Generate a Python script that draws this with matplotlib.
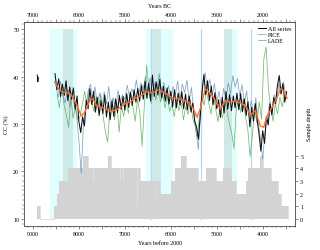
import matplotlib
matplotlib.use("Agg")
import matplotlib.pyplot as plt
from matplotlib.ticker import MultipleLocator, FuncFormatter

plt.rcParams['font.family'] = ['Liberation Serif', 'DejaVu Serif']
plt.rcParams['font.size'] = 4.3

## composite series, 40 yr steps from 8520 to 3480 yr before 2000
all_years = list(range(8520, 3479, -40))
all_cc = [40.6, 37.2, 39.5, 35.8, 38.4, 36.0, 39.1, 34.9, 37.8, 35.2,
          37.6, 33.1, 35.9, 30.4, 28.2, 31.5, 29.6, 35.0, 33.2, 37.4,
          34.1, 36.9, 32.5, 35.6, 31.8, 34.9, 32.2, 36.1, 31.5, 34.6,
          30.9, 34.8, 31.6, 35.3, 32.4, 36.0, 33.1, 35.8, 32.9, 36.4,
          33.5, 36.7, 33.9, 37.2, 34.6, 37.5, 34.8, 38.1, 35.2, 39.0,
          35.4, 38.6, 34.9, 40.3, 35.8, 38.9, 36.1, 39.4, 35.5, 37.9,
          34.8, 37.6, 34.2, 36.9, 33.6, 37.2, 33.4, 36.5, 34.0, 36.8,
          33.2, 36.3, 33.0, 35.9, 32.5, 34.4, 30.6, 29.4, 26.8, 31.5,
          36.8, 40.4, 36.2, 39.1, 34.9, 38.0, 34.1, 36.6, 33.2, 35.1,
          31.4, 35.6, 32.3, 36.8, 33.1, 36.2, 32.8, 35.9, 33.4, 36.5,
          33.0, 36.4, 32.6, 35.3, 31.8, 34.7, 29.4, 33.5, 30.6, 34.3,
          30.8, 27.9, 24.3, 28.6, 25.9, 31.6, 29.8, 34.2, 31.9, 35.6,
          34.3, 38.1, 40.2, 36.4, 38.5, 34.6, 36.8]

# isolated early fragment
early_years = [8905, 8895, 8885]
early_cc = [40.3, 38.9, 39.8]

pice_years = list(range(8500, 3499, -50))
pice_cc = [38.2, 35.6, 39.0, 36.1, 34.4, 37.3, 33.5, 36.8, 34.0, 31.8,
           26.5, 19.6, 30.2, 33.6, 36.9, 38.4, 35.2, 37.8, 34.1, 36.5,
           33.4, 36.8, 34.2, 37.9, 32.8, 35.5, 33.0, 37.1, 34.6, 36.2,
           35.1, 38.2, 35.8, 37.4, 36.2, 39.3, 36.0, 38.7, 37.4, 40.1,
           37.0, 39.8, 36.3, 38.6, 37.5, 40.6, 36.9, 38.8, 35.6, 38.1,
           35.4, 37.9, 36.2, 39.1, 35.0, 38.4, 36.6, 39.2, 34.8, 37.7,
           32.1, 28.4, 24.6, 33.0, 38.6, 40.8, 37.3, 39.4, 36.0, 38.5,
           34.7, 36.9, 33.8, 37.5, 35.2, 38.6, 36.4, 40.2, 37.8, 39.6,
           35.9, 38.3, 34.4, 37.0, 31.8, 34.9, 32.2, 35.5, 30.4, 27.1,
           22.6, 28.3, 31.0, 34.6, 32.4, 36.2, 34.8, 38.5, 36.1, 38.9,
           36.3]

lade_years = list(range(8475, 3524, -50))
lade_cc = [36.2, 33.4, 37.8, 34.1, 32.0, 29.3, 35.6, 31.2, 33.9, 30.8,
           31.5, 34.2, 36.9, 33.8, 37.5, 35.1, 32.6, 35.9, 33.0, 36.4,
           31.8, 28.5, 26.2, 33.1, 35.4, 30.9, 34.7, 28.3, 33.8, 31.6,
           34.9, 32.2, 36.8, 33.5, 30.6, 35.2, 32.4, 25.3, 34.1, 42.4,
           36.7, 34.3, 37.9, 35.0, 38.4, 34.6, 36.2, 33.4, 35.8, 32.7,
           34.1, 31.5, 35.3, 32.8, 34.6, 30.9, 33.7, 32.0, 35.1, 31.3,
           29.6, 27.4, 31.8, 35.7, 33.9, 37.2, 34.4, 32.1, 35.6, 33.3,
           30.5, 33.7, 31.2, 34.8, 32.6, 30.1, 28.0, 24.8, 33.2, 35.0,
           32.4, 35.3, 31.6, 28.9, 23.2, 27.5, 33.1, 30.2, 34.6, 31.0,
           43.8, 46.2, 37.5, 33.4, 30.6, 34.2, 32.1, 35.7, 33.6, 36.0]

smooth_years = [8527, 8418, 8320, 8237, 8165, 8056, 7947, 7873, 7764, 7692,
                7620, 7511, 7402, 7293, 7147, 7001, 6857, 6776, 6630, 6521,
                6413, 6268, 6159, 6050, 5941, 5832, 5723, 5614, 5505, 5431,
                5359, 5250, 5141, 5070, 4995, 4923, 4814, 4705, 4596, 4487,
                4378, 4269, 4160, 4051, 3978, 3906, 3797, 3687, 3615, 3543, 3470]
smooth_cc = [38.8, 37.0, 36.7, 36.5, 36.1, 34.2, 31.7, 32.5, 34.9, 35.3,
             33.9, 33.5, 33.2, 32.6, 33.2, 34.2, 34.8, 35.4, 36.1, 36.8,
             36.5, 37.2, 36.7, 36.1, 35.3, 35.4, 34.9, 34.6, 33.2, 31.4,
             33.2, 37.4, 36.5, 35.6, 34.2, 33.2, 34.9, 34.6, 34.9, 34.4,
             33.9, 31.9, 32.8, 29.6, 29.3, 31.7, 33.5, 35.6, 37.4, 37.0, 35.4]

## sample depth, step changes (year, depth)
depth_years = [8913, 8847, 8536, 8483, 8427, 8230, 8160, 8140, 7903, 7808,
               7700, 7680, 7358, 7300, 7100, 7080, 7040, 7020, 6740, 6720,
               6667, 6340, 6320, 6245, 5990, 5918, 5780, 5680, 5410, 5227,
               5009, 4865, 4682, 4573, 4355, 4320, 4065, 3993, 3810, 3666,
               3592, 3447]
depth_vals = [1, 0, 1, 2, 3, 4, 3, 4, 5, 4,
              3, 4, 5, 4, 3, 4, 3, 4, 1, 4,
              3, 1, 3, 2, 3, 4, 5, 4, 3, 4,
              3, 4, 3, 2, 3, 4, 5, 4, 3, 2,
              1, 0]

## shaded periods
event_start = [8630, 6537, 4850]
event_end = [8035, 5943, 4560]
core_start = [8340, 6413, 4850]
core_end = [8135, 6217, 4660]
line_years = [6434, 5338, 4246]

cc_lim = (8.63, 51.54)
depth_lim = (-0.51, 15.54)
xlim = (9189, 3297)

fig = plt.figure(figsize=(3.2, 2.51), dpi=100)
ax = fig.add_axes([0.0759, 0.0976, 0.9219 - 0.0759, 0.9096 - 0.0976])
ax2 = ax.twinx()
ax.set_zorder(ax2.get_zorder() + 1)
ax.patch.set_visible(False)

f10 = (10 - cc_lim[0]) / (cc_lim[1] - cc_lim[0])
f50 = (50 - cc_lim[0]) / (cc_lim[1] - cc_lim[0])
for s, e in zip(event_start, event_end):
    ax2.axvspan(s, e, f10, f50, color='#E2FFFF', lw=0, zorder=0)
for s, e in zip(core_start, core_end):
    ax2.axvspan(s, e, f10, f50, color='#CFE9E9', lw=0, zorder=0.5)
for yr in line_years:
    ax2.axvline(yr, f10, f50, color='#B3DAF0', lw=0.9, zorder=0.6)

ax2.fill_between(depth_years, depth_vals, step='post', color='#D3D3D3', lw=0, zorder=1)
ax2.step(depth_years, depth_vals, where='post', color='#D3D3D3', lw=0.5, zorder=1)

l_lade, = ax.plot(lade_years, lade_cc, color='#46A046', lw=0.55, alpha=0.75, label='LADE', zorder=2)
l_pice, = ax.plot(pice_years, pice_cc, color='#5A84AE', lw=0.55, alpha=0.75, label='PICE', zorder=3)
l_all, = ax.plot(all_years, all_cc, color='#111111', lw=0.75, label='All series', zorder=4)
ax.plot(early_years, early_cc, color='#111111', lw=0.75, zorder=4)
ax.plot(smooth_years, smooth_cc, color='#FF6F35', lw=1.0, zorder=5)

ax.set_xlim(xlim)
ax.set_ylim(cc_lim)
ax2.set_ylim(depth_lim)

ax.xaxis.set_major_locator(MultipleLocator(500))
ax.xaxis.set_minor_locator(MultipleLocator(100))
ax.xaxis.set_major_formatter(FuncFormatter(lambda v, p: '%d' % v if v % 1000 == 0 else ''))
ax.yaxis.set_major_locator(MultipleLocator(10))
ax.yaxis.set_minor_locator(MultipleLocator(1))
ax2.set_yticks([0, 1, 2, 3, 4, 5])

top = ax.secondary_xaxis('top', functions=(lambda x: x - 2000, lambda x: x + 2000))
top.xaxis.set_major_locator(MultipleLocator(500))
top.xaxis.set_minor_locator(MultipleLocator(100))
top.xaxis.set_major_formatter(FuncFormatter(lambda v, p: '%d' % v if v % 1000 == 0 else ''))

for a in (ax, ax2, top):
    a.tick_params(which='major', length=2.2, width=0.4, pad=1.5, colors='#333333', labelcolor='black')
    a.tick_params(which='minor', length=1.1, width=0.3, colors='#333333')
for a in (ax, ax2):
    for sp in a.spines.values():
        sp.set_linewidth(0.5)
        sp.set_color('#555555')
top.spines['top'].set_linewidth(0.5)
top.spines['top'].set_color('#555555')

ax.set_xlabel('Years before 2000', labelpad=3)
top.set_xlabel('Years BC', labelpad=3)
ax.set_ylabel('CC (%)', labelpad=3)
ax2.set_ylabel('Sample depth', labelpad=3)

ax.legend(handles=[l_all, l_pice, l_lade], loc='upper left', bbox_to_anchor=(0.855, 0.99),
          frameon=False, handlelength=1.3, handletextpad=0.4, labelspacing=0.15,
          borderaxespad=0, fontsize=4.3)

fig.savefig('out.png', dpi=100)
